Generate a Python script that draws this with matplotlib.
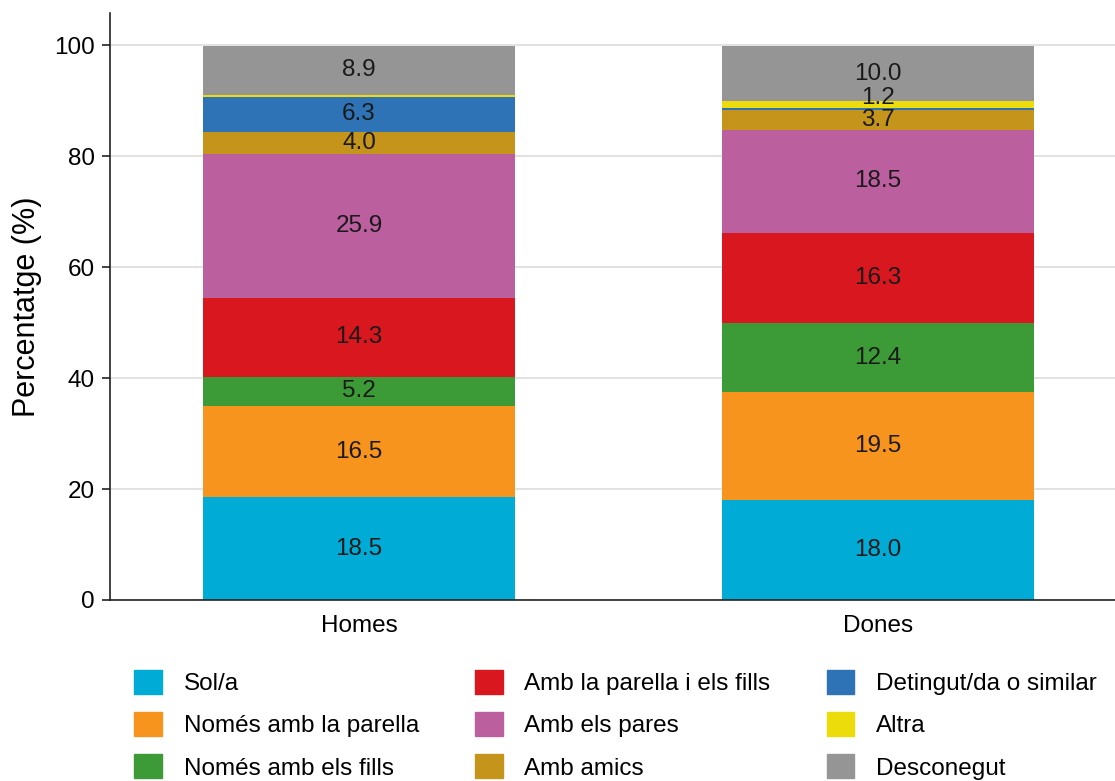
import matplotlib.pyplot as plt
from matplotlib import patches
import numpy as np

plt.rcParams['font.family'] = ['Liberation Sans', 'DejaVu Sans']

groups = ["Homes", "Dones"]
categories = ["Sol/a", "Només amb la parella", "Només amb els fills",
              "Amb la parella i els fills", "Amb els pares", "Amb amics",
              "Detingut/da o similar", "Altra", "Desconegut"]
homes = [18.5, 16.5, 5.2, 14.3, 25.9, 4.0, 6.3, 0.3, 8.9]
dones = [18.0, 19.5, 12.4, 16.3, 18.5, 3.7, 0.3, 1.2, 10.0]
colors = ["#00abd5", "#f7941e", "#3c9b36", "#d8171f", "#bc5f9f",
          "#c5941a", "#2d73b5", "#ecdc0b", "#959595"]

fig = plt.figure(figsize=(11.15, 7.81), dpi=100)
ax = fig.add_axes([0.0987, 0.2318, 0.9013, 0.7515])

x = np.arange(len(groups))
vals = np.array([homes, dones])
bottom = np.zeros(len(groups))
last_label = [-10.0] * len(groups)
handles = []
for i, cat in enumerate(categories):
    ax.bar(x, vals[:, i], 0.6, bottom=bottom, color=colors[i], zorder=2)
    for j in range(len(groups)):
        v = vals[j, i]
        if v >= 1:
            ypos = bottom[j] + v / 2
            # small segments: nudge label up so it doesn't sit on the one below
            if v < 2:
                ypos = max(ypos, last_label[j] + 4)
            ax.text(x[j], ypos, "%.1f" % v, ha="center", va="center",
                    fontsize=17.5, color="#1a1a1a", zorder=3)
            last_label[j] = ypos
    bottom += vals[:, i]
    handles.append(patches.Patch(color=colors[i], label=cat))

ax.set_xlim(-0.48, 1.457)
ax.set_ylim(0, 105.8)
ax.set_yticks([0, 20, 40, 60, 80, 100])
ax.set_xticks(x)
ax.set_xticklabels(groups)
ax.tick_params(axis="y", labelsize=17.5, length=6, width=1.2, color="#222222", pad=5)
ax.tick_params(axis="x", labelsize=17.5, length=0, pad=11)
ax.yaxis.grid(True, color="#dddddd", linewidth=1.2, zorder=0)
ax.set_axisbelow(True)
for s in ["top", "right"]:
    ax.spines[s].set_visible(False)
for s in ["left", "bottom"]:
    ax.spines[s].set_linewidth(1.2)
    ax.spines[s].set_color("#222222")
ax.set_ylabel("Percentatge (%)", fontsize=22, labelpad=9)

fig.legend(handles=handles, loc="upper left", bbox_to_anchor=(0.109, 0.158),
           ncol=3, frameon=False, fontsize=17.5, handlelength=1.15, handleheight=1.15,
           columnspacing=2.3, labelspacing=0.7, handletextpad=0.9, borderpad=0)

fig.savefig("out.png", dpi=100)
